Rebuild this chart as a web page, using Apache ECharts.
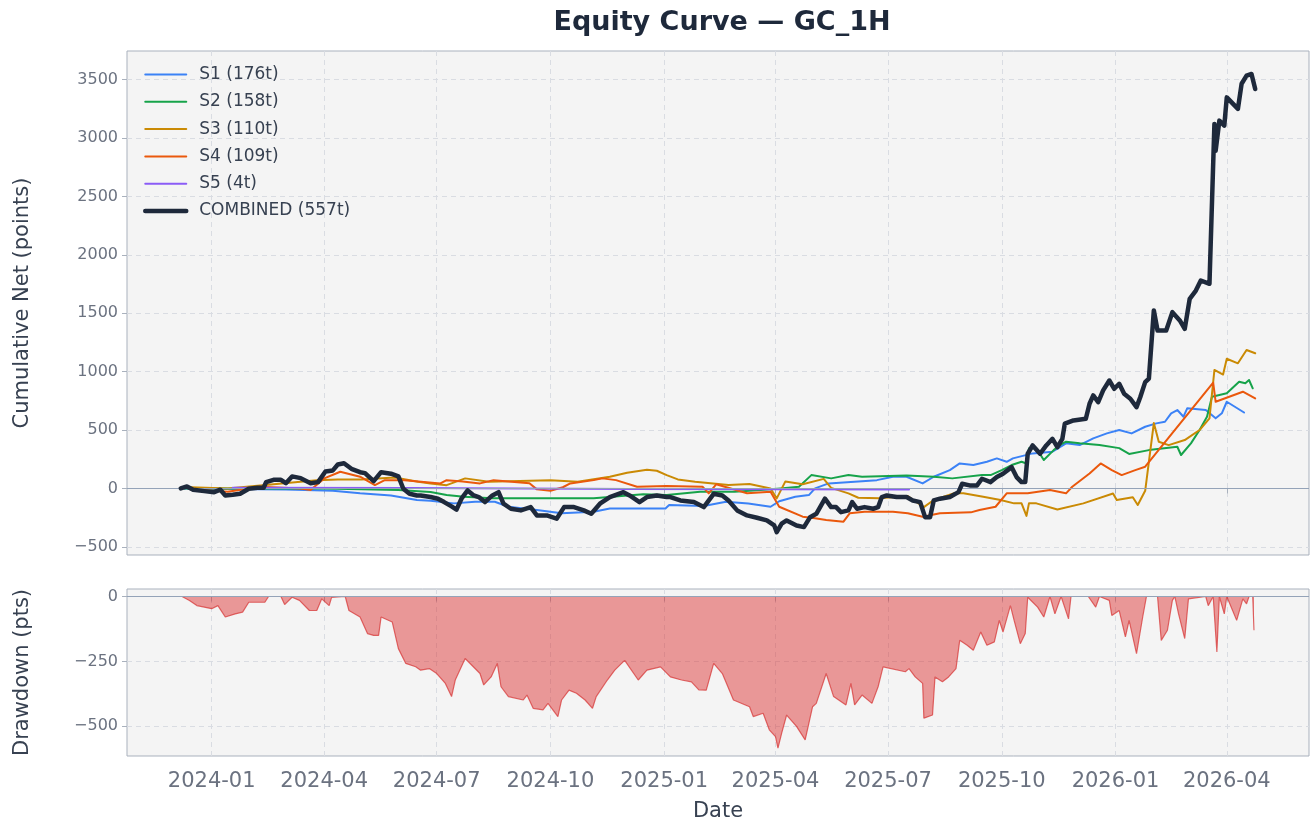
<!DOCTYPE html>
<html><head><meta charset="utf-8">
<script src="https://cdn.jsdelivr.net/npm/echarts@6/dist/echarts.min.js"></script>
<style>html,body{margin:0;padding:0;background:#ffffff;}#c{width:1311px;height:824px;}</style>
</head><body><div id="c"></div>
<script>
// ---------- data ----------
const quarterTicks = ['2024-01-01','2024-04-01','2024-07-01','2024-10-01','2025-01-01','2025-04-01','2025-07-01','2025-10-01','2026-01-01','2026-04-01'];
const topTicks = [-500,0,500,1000,1500,2000,2500,3000,3500];
const ddTicks = [-500,-250,0];
const seriesNames = ['S1 (176t)','S2 (158t)','S3 (110t)','S4 (109t)','S5 (4t)','COMBINED (557t)'];

const s1 = [['2023-12-10',0],['2024-01-15',-5],['2024-03-01',-10],['2024-04-08',-20],['2024-04-30',-42],['2024-05-25',-60],['2024-06-15',-99],['2024-06-26',-105],['2024-07-15',-128],['2024-08-01',-114],['2024-08-17',-114],['2024-08-28',-157],['2024-09-20',-185],['2024-10-10',-213],['2024-11-05',-199],['2024-11-18',-171],['2025-01-02',-171],['2025-01-05',-142],['2025-02-02',-150],['2025-02-20',-115],['2025-03-10',-130],['2025-03-28',-157],['2025-04-04',-110],['2025-04-17',-71],['2025-04-28',-57],['2025-05-03',0],['2025-05-14',43],['2025-06-22',71],['2025-07-05',100],['2025-07-16',100],['2025-07-29',43],['2025-08-07',100],['2025-08-20',157],['2025-08-28',214],['2025-09-08',200],['2025-09-19',228],['2025-09-27',257],['2025-10-05',228],['2025-10-10',257],['2025-10-26',300],['2025-11-11',314],['2025-11-22',386],['2025-12-03',371],['2025-12-14',428],['2025-12-25',471],['2026-01-04',500],['2026-01-14',471],['2026-01-25',528],['2026-02-03',557],['2026-02-10',571],['2026-02-15',643],['2026-02-20',671],['2026-02-25',614],['2026-02-28',686],['2026-03-15',671],['2026-03-23',600],['2026-03-28',643],['2026-04-01',742],['2026-04-15',650]];

const s2 = [['2023-12-10',0],['2024-04-01',0],['2024-05-31',-14],['2024-06-26',-30],['2024-07-09',-57],['2024-07-23',-71],['2024-08-15',-85],['2024-10-11',-85],['2024-11-05',-85],['2024-12-15',-50],['2025-01-03',-57],['2025-01-30',-28],['2025-02-27',-28],['2025-03-20',-14],['2025-04-05',0],['2025-04-20',14],['2025-04-30',114],['2025-05-16',86],['2025-05-30',114],['2025-06-10',100],['2025-07-16',110],['2025-08-07',100],['2025-08-22',86],['2025-09-15',114],['2025-09-22',114],['2025-10-01',157],['2025-10-09',200],['2025-10-17',228],['2025-10-21',214],['2025-10-23',343],['2025-10-29',343],['2025-11-04',243],['2025-11-12',328],['2025-11-17',371],['2025-11-22',400],['2025-12-03',386],['2025-12-19',371],['2026-01-04',345],['2026-01-12',295],['2026-01-28',328],['2026-02-20',357],['2026-02-23',286],['2026-03-03',386],['2026-03-10',500],['2026-03-16',614],['2026-03-20',785],['2026-04-01',814],['2026-04-11',914],['2026-04-16',900],['2026-04-19',928],['2026-04-22',857]];

const s3 = [['2023-12-15',10],['2024-01-14',0],['2024-03-26',71],['2024-04-12',77],['2024-05-01',77],['2024-05-28',94],['2024-06-16',57],['2024-06-26',43],['2024-07-09',28],['2024-07-24',86],['2024-08-12',57],['2024-10-01',71],['2024-10-23',57],['2024-11-18',100],['2024-12-02',135],['2024-12-18',160],['2024-12-26',151],['2025-01-03',114],['2025-01-12',77],['2025-01-26',57],['2025-02-22',29],['2025-03-11',37],['2025-03-28',0],['2025-04-02',-85],['2025-04-09',60],['2025-04-23',35],['2025-05-10',82],['2025-05-16',5],['2025-05-30',-42],['2025-06-07',-80],['2025-06-24',-85],['2025-07-17',-65],['2025-07-23',-110],['2025-07-30',-160],['2025-08-07',-99],['2025-08-23',-42],['2025-08-31',-42],['2025-09-16',-71],['2025-09-30',-99],['2025-10-11',-128],['2025-10-17',-128],['2025-10-21',-235],['2025-10-23',-128],['2025-10-29',-128],['2025-11-15',-180],['2025-12-06',-128],['2025-12-30',-43],['2026-01-02',-99],['2026-01-15',-75],['2026-01-19',-142],['2026-01-25',-20],['2026-02-01',560],['2026-02-05',400],['2026-02-13',371],['2026-02-26',414],['2026-03-10',500],['2026-03-18',600],['2026-03-22',1014],['2026-03-29',975],['2026-04-01',1110],['2026-04-10',1071],['2026-04-17',1185],['2026-04-24',1157]];

const s4 = [['2023-12-15',-8],['2024-01-14',-28],['2024-02-09',14],['2024-03-13',0],['2024-03-21',-14],['2024-04-01',86],['2024-04-14',143],['2024-04-30',100],['2024-05-12',29],['2024-05-20',71],['2024-06-05',71],['2024-07-04',43],['2024-07-09',71],['2024-07-22',60],['2024-08-05',43],['2024-08-16',71],['2024-09-14',45],['2024-09-20',-8],['2024-10-01',-20],['2024-10-11',10],['2024-10-17',43],['2024-11-05',71],['2024-11-12',86],['2024-11-23',71],['2024-12-10',14],['2025-01-03',20],['2025-02-01',14],['2025-02-06',-42],['2025-02-12',35],['2025-03-09',-42],['2025-03-28',-28],['2025-04-04',-157],['2025-04-23',-242],['2025-05-03',-256],['2025-05-12',-270],['2025-05-26',-285],['2025-05-31',-213],['2025-06-12',-199],['2025-07-05',-199],['2025-07-17',-213],['2025-07-29',-242],['2025-08-12',-213],['2025-09-06',-205],['2025-09-13',-185],['2025-09-26',-157],['2025-10-05',-42],['2025-10-22',-42],['2025-11-09',-14],['2025-11-22',-42],['2025-11-27',14],['2025-12-11',128],['2025-12-20',214],['2025-12-29',157],['2026-01-06',114],['2026-01-17',157],['2026-01-25',186],['2026-03-21',905],['2026-03-23',742],['2026-04-14',828],['2026-04-24',771]];

const s5 = [['2024-01-18',6],['2024-06-10',3],['2024-12-05',-5],['2025-07-18',-10]];

const combined = [['2023-12-07',0],['2023-12-12',17],['2023-12-17',-11],['2023-12-26',-23],['2024-01-03',-32],['2024-01-08',-11],['2024-01-12',-60],['2024-01-18',-54],['2024-01-24',-46],['2024-01-31',-3],['2024-02-07',6],['2024-02-12',6],['2024-02-14',54],['2024-02-20',74],['2024-02-26',74],['2024-03-01',45],['2024-03-06',103],['2024-03-13',88],['2024-03-21',45],['2024-03-27',54],['2024-04-02',145],['2024-04-08',154],['2024-04-12',205],['2024-04-17',216],['2024-04-23',168],['2024-04-30',139],['2024-05-04',131],['2024-05-11',62],['2024-05-17',139],['2024-05-25',126],['2024-05-31',103],['2024-06-04',-3],['2024-06-09',-46],['2024-06-15',-60],['2024-06-18',-60],['2024-06-26',-74],['2024-07-02',-88],['2024-07-07',-117],['2024-07-13',-154],['2024-07-17',-182],['2024-07-21',-88],['2024-07-26',-17],['2024-07-31',-60],['2024-08-04',-74],['2024-08-09',-117],['2024-08-15',-60],['2024-08-20',-32],['2024-08-24',-131],['2024-08-30',-174],['2024-09-07',-188],['2024-09-15',-160],['2024-09-20',-231],['2024-09-28',-231],['2024-10-06',-259],['2024-10-12',-160],['2024-10-20',-160],['2024-10-28',-188],['2024-11-03',-217],['2024-11-10',-131],['2024-11-18',-74],['2024-11-29',-32],['2024-12-04',-60],['2024-12-12',-117],['2024-12-18',-74],['2024-12-26',-60],['2025-01-03',-74],['2025-01-06',-74],['2025-01-14',-103],['2025-01-25',-117],['2025-02-02',-160],['2025-02-10',-46],['2025-02-17',-60],['2025-02-22',-103],['2025-03-01',-188],['2025-03-09',-231],['2025-03-17',-251],['2025-03-25',-274],['2025-03-31',-317],['2025-04-02',-374],['2025-04-06',-302],['2025-04-10',-274],['2025-04-18',-317],['2025-04-24',-331],['2025-04-29',-246],['2025-05-04',-217],['2025-05-11',-88],['2025-05-16',-160],['2025-05-20',-160],['2025-05-24',-203],['2025-05-30',-188],['2025-06-02',-117],['2025-06-06',-174],['2025-06-12',-160],['2025-06-19',-174],['2025-06-23',-160],['2025-06-26',-74],['2025-06-30',-60],['2025-07-08',-74],['2025-07-16',-74],['2025-07-21',-103],['2025-07-27',-117],['2025-07-31',-246],['2025-08-04',-246],['2025-08-07',-103],['2025-08-12',-88],['2025-08-20',-74],['2025-08-27',-32],['2025-08-30',40],['2025-09-05',26],['2025-09-11',26],['2025-09-15',83],['2025-09-22',54],['2025-09-27',97],['2025-10-02',126],['2025-10-09',182],['2025-10-13',97],['2025-10-17',54],['2025-10-20',54],['2025-10-22',297],['2025-10-26',368],['2025-11-01',297],['2025-11-06',368],['2025-11-11',425],['2025-11-15',353],['2025-11-19',425],['2025-11-21',554],['2025-11-28',582],['2025-12-08',596],['2025-12-11',725],['2025-12-14',796],['2025-12-18',739],['2025-12-22',839],['2025-12-27',924],['2025-12-31',853],['2026-01-04',896],['2026-01-08',810],['2026-01-13',768],['2026-01-18',696],['2026-01-21',781],['2026-01-25',910],['2026-01-28',940],['2026-02-01',1523],['2026-02-04',1352],['2026-02-11',1352],['2026-02-16',1509],['2026-02-22',1438],['2026-02-26',1366],['2026-03-02',1623],['2026-03-07',1694],['2026-03-11',1780],['2026-03-18',1752],['2026-03-22',3121],['2026-03-23',2892],['2026-03-26',3149],['2026-03-30',3106],['2026-04-01',3348],['2026-04-10',3249],['2026-04-13',3465],['2026-04-17',3534],['2026-04-21',3548],['2026-04-24',3420]];

const drawdown = [['2023-12-08',0],['2023-12-14',-15],['2023-12-20',-35],['2024-01-01',-47],['2024-01-06',-35],['2024-01-12',-79],['2024-01-20',-67],['2024-01-26',-60],['2024-01-31',-22],['2024-02-13',-22],['2024-02-16',0],['2024-02-26',0],['2024-02-29',-31],['2024-03-06',-3],['2024-03-12',-15],['2024-03-20',-54],['2024-03-26',-54],['2024-03-30',-9],['2024-04-05',-35],['2024-04-07',-3],['2024-04-18',0],['2024-04-21',-54],['2024-04-30',-79],['2024-05-06',-143],['2024-05-11',-150],['2024-05-15',-150],['2024-05-17',-79],['2024-05-26',-98],['2024-05-31',-201],['2024-06-06',-258],['2024-06-14',-271],['2024-06-18',-284],['2024-06-25',-278],['2024-07-01',-297],['2024-07-08',-335],['2024-07-13',-386],['2024-07-16',-322],['2024-07-24',-239],['2024-08-05',-297],['2024-08-08',-341],['2024-08-14',-310],['2024-08-19',-258],['2024-08-22',-348],['2024-08-28',-386],['2024-09-09',-399],['2024-09-12',-380],['2024-09-17',-431],['2024-09-25',-437],['2024-09-29',-412],['2024-10-07',-463],['2024-10-10',-399],['2024-10-16',-361],['2024-10-22',-373],['2024-10-29',-399],['2024-11-04',-431],['2024-11-07',-386],['2024-11-16',-322],['2024-11-22',-284],['2024-11-30',-246],['2024-12-11',-322],['2024-12-18',-284],['2024-12-29',-271],['2025-01-06',-310],['2025-01-15',-322],['2025-01-23',-329],['2025-01-29',-360],['2025-02-04',-361],['2025-02-10',-258],['2025-02-17',-297],['2025-02-26',-399],['2025-03-11',-425],['2025-03-14',-463],['2025-03-22',-450],['2025-03-27',-514],['2025-04-01',-540],['2025-04-03',-585],['2025-04-06',-527],['2025-04-10',-457],['2025-04-18',-501],['2025-04-25',-553],['2025-05-01',-425],['2025-05-04',-412],['2025-05-12',-297],['2025-05-18',-386],['2025-05-28',-418],['2025-06-01',-335],['2025-06-04',-418],['2025-06-10',-380],['2025-06-18',-412],['2025-06-23',-348],['2025-06-27',-271],['2025-07-15',-290],['2025-07-18',-278],['2025-07-23',-310],['2025-07-29',-335],['2025-07-30',-469],['2025-08-06',-457],['2025-08-08',-310],['2025-08-14',-329],['2025-08-19',-310],['2025-08-25',-278],['2025-08-28',-169],['2025-09-03',-188],['2025-09-08',-207],['2025-09-14',-137],['2025-09-19',-188],['2025-09-25',-175],['2025-09-29',-92],['2025-10-02',-137],['2025-10-08',-35],['2025-10-11',-92],['2025-10-16',-182],['2025-10-20',-143],['2025-10-22',-3],['2025-10-30',-41],['2025-11-04',-79],['2025-11-09',0],['2025-11-13',-67],['2025-11-18',0],['2025-11-24',-86],['2025-11-26',0],['2025-12-10',0],['2025-12-16',-41],['2025-12-19',0],['2025-12-27',-15],['2025-12-29',-73],['2026-01-04',-54],['2026-01-09',-156],['2026-01-12',-92],['2026-01-18',-220],['2026-01-23',-79],['2026-01-26',0],['2026-02-04',0],['2026-02-07',-169],['2026-02-12',-130],['2026-02-16',-15],['2026-02-18',0],['2026-02-21',-67],['2026-02-26',-162],['2026-03-01',-9],['2026-03-15',0],['2026-03-17',-35],['2026-03-21',0],['2026-03-24',-214],['2026-03-26',0],['2026-03-30',-67],['2026-04-01',0],['2026-04-09',-92],['2026-04-14',-9],['2026-04-17',-28],['2026-04-19',0],['2026-04-22',0],['2026-04-23',-130]];

// ---------- helpers ----------
function ts(s){const p=s.split('-').map(Number);return new Date(p[0],p[1]-1,p[2]).getTime();}
function pts(arr){return arr.map(d=>[ts(d[0]),d[1]]);}
function fmtMonth(v){const d=new Date(v+43200000);return d.getFullYear()+'-'+String(d.getMonth()+1).padStart(2,'0');}
function fmtNum(v){return v<0?'\u2212'+(-v):String(v);}

const xMin = new Date(2023,9,24,12).getTime();
const xMax = new Date(2026,5,6,12).getTime();
const qTs = quarterTicks.map(ts);

const FONT = 'DejaVu Sans';
const tickColor = '#6b7280';
const spine = '#a9b1bd';
const gridLine = {show:true,lineStyle:{color:'#d9dce2',width:1,type:[5,4]}};
const colors = ['#3b82f6','#16a34a','#ca8a04','#ea580c','#8b5cf6','#1e293b'];
const zeroLine = {symbol:'none',silent:true,label:{show:false},lineStyle:{color:'#94a3b8',width:1.2,type:'solid'},data:[{yAxis:0}]};

function lineSeries(name,data,color,width,z){
  return {name:name,type:'line',xAxisIndex:0,yAxisIndex:0,data:pts(data),showSymbol:false,symbol:'none',
    lineStyle:{color:color,width:width,join:'round',cap:'round'},itemStyle:{color:color},z:z,animation:false,silent:true};
}

const series = [
  {name:'zero-top',type:'line',xAxisIndex:0,yAxisIndex:0,data:[],symbol:'none',z:2,silent:true,animation:false,markLine:zeroLine},
  lineSeries(seriesNames[0],s1,colors[0],2,3),
  lineSeries(seriesNames[1],s2,colors[1],2,3),
  lineSeries(seriesNames[2],s3,colors[2],2,3),
  lineSeries(seriesNames[3],s4,colors[3],2,3),
  lineSeries(seriesNames[4],s5,colors[4],2,3),
  lineSeries(seriesNames[5],combined,colors[5],4.5,5),
  {name:'dd',type:'line',xAxisIndex:1,yAxisIndex:1,data:pts(drawdown),showSymbol:false,symbol:'none',
   lineStyle:{color:'rgba(214,48,48,0.7)',width:1.2},areaStyle:{color:'rgba(220,38,38,0.45)',opacity:1},animation:false,silent:true,
   markLine:zeroLine}
];

const option = {
  backgroundColor:'#ffffff',
  animation:false,
  textStyle:{fontFamily:FONT},
  title:{text:'Equity Curve \u2014 GC_1H',left:717,top:4,textAlign:'center',
    textStyle:{fontFamily:FONT,fontSize:27,fontWeight:'bold',color:'#1e293b'}},
  legend:{data:seriesNames,orient:'vertical',left:138,top:61,itemWidth:41,itemHeight:14,itemGap:10.3,
    itemStyle:{opacity:0},lineStyle:{width:'inherit'},
    textStyle:{fontFamily:FONT,fontSize:17,color:'#374151',padding:[0,0,0,8]},backgroundColor:'transparent',selectedMode:false},
  grid:[
    {left:127,right:2,top:51,height:504,show:true,backgroundColor:'#f4f4f4',borderColor:spine,borderWidth:1},
    {left:127,right:2,top:589,height:167,show:true,backgroundColor:'#f4f4f4',borderColor:spine,borderWidth:1}
  ],
  xAxis:[
    {type:'value',gridIndex:0,min:xMin,max:xMax,axisLine:{show:false},
     axisTick:{show:true,length:5,lineStyle:{color:spine},customValues:qTs},
     axisLabel:{show:false,customValues:qTs},splitLine:gridLine},
    {type:'value',gridIndex:1,min:xMin,max:xMax,axisLine:{show:false},
     axisTick:{show:true,length:5,lineStyle:{color:spine},customValues:qTs},
     axisLabel:{show:true,customValues:qTs,formatter:fmtMonth,margin:15,fontFamily:FONT,fontSize:21,color:tickColor},
     splitLine:gridLine,
     name:'Date',nameLocation:'middle',nameGap:45,nameTextStyle:{fontFamily:FONT,fontSize:21,color:'#374151'}}
  ],
  yAxis:[
    {type:'value',gridIndex:0,min:-570,max:3745,axisLine:{show:false},
     axisTick:{show:true,length:5,lineStyle:{color:spine},customValues:topTicks},
     axisLabel:{customValues:topTicks,formatter:fmtNum,margin:9,fontFamily:FONT,fontSize:16,color:tickColor},
     splitLine:gridLine,
     name:'Cumulative Net (points)',nameLocation:'middle',nameGap:94,nameTextStyle:{fontFamily:FONT,fontSize:21,color:'#374151'}},
    {type:'value',gridIndex:1,min:-615,max:29,axisLine:{show:false},
     axisTick:{show:true,length:5,lineStyle:{color:spine},customValues:ddTicks},
     axisLabel:{customValues:ddTicks,formatter:fmtNum,margin:9,fontFamily:FONT,fontSize:16,color:tickColor},
     splitLine:gridLine,
     name:'Drawdown (pts)',nameLocation:'middle',nameGap:94,nameTextStyle:{fontFamily:FONT,fontSize:21,color:'#374151'}}
  ],
  series:series
};
const chart = echarts.init(document.getElementById('c'),null,{renderer:'canvas'});
chart.setOption(option);
</script></body></html>
